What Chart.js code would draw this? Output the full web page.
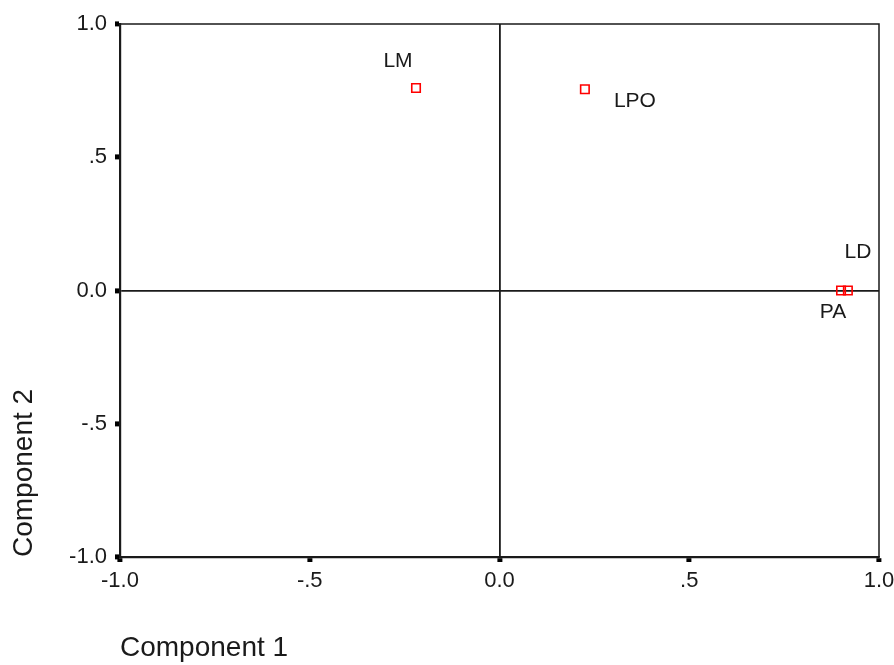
<!DOCTYPE html>
<html>
<head>
<meta charset="utf-8">
<title>Component Plot</title>
<script src="https://cdn.jsdelivr.net/npm/chart.js@4/dist/chart.umd.min.js"></script>
<style>
  html, body { margin: 0; padding: 0; background: #ffffff; }
  #wrap { width: 894px; height: 665px; }
</style>
</head>
<body>
<div id="wrap"><canvas id="plot" width="894" height="665"></canvas></div>
<script>
// Component loadings of each variable
const variables  = ['LM', 'LPO', 'LD', 'PA'];
const component1 = [-0.22, 0.225, 0.918, 0.90];
const component2 = [0.76, 0.755, 0.0, 0.0];

// Axis ticks and titles
const tickValues = [-1, -0.5, 0, 0.5, 1];
const tickLabels = ['-1.0', '-.5', '0.0', '.5', '1.0'];
const axisTitles = ['Component 1', 'Component 2'];

const FONT = '"Liberation Sans", Arial, sans-serif';
const INK = '#1a1a1a';

// Where each variable name sits relative to its marker (px)
const labelOffsets = {
  LM:  [-18, -27],
  LPO: [50, 12],
  LD:  [10, -38],
  PA:  [-8, 22]
};

const points = variables.map((v, i) => ({ x: component1[i], y: component2[i] }));

// Frame on top and right of the plot area
const framePlugin = {
  id: 'frame',
  afterDraw(chart) {
    const { ctx, chartArea: a } = chart;
    ctx.save();
    ctx.strokeStyle = INK;
    ctx.lineWidth = 1.5;
    ctx.beginPath();
    ctx.moveTo(a.left, a.top);
    ctx.lineTo(a.right, a.top);
    ctx.lineTo(a.right, a.bottom);
    ctx.stroke();
    ctx.restore();
  }
};

// Variable names next to their markers
const nameLabels = {
  id: 'nameLabels',
  afterDatasetsDraw(chart) {
    const { ctx } = chart;
    const meta = chart.getDatasetMeta(0);
    ctx.save();
    ctx.font = '21px ' + FONT;
    ctx.fillStyle = INK;
    ctx.textAlign = 'center';
    ctx.textBaseline = 'middle';
    meta.data.forEach((el, i) => {
      const name = variables[i];
      const off = labelOffsets[name] || [0, 0];
      ctx.fillText(name, el.x + off[0], el.y + off[1]);
    });
    ctx.restore();
  }
};

const tickLabel = v => {
  const idx = tickValues.findIndex(t => Math.abs(t - v) < 1e-9);
  return idx >= 0 ? tickLabels[idx] : '';
};

const axisGrid = {
  drawOnChartArea: true,
  color: ctx => (ctx.tick && Math.abs(ctx.tick.value) < 1e-9) ? INK : 'rgba(0,0,0,0)',
  lineWidth: 1.8,
  drawTicks: true,
  tickColor: '#000',
  tickLength: 5,
  tickWidth: 5
};

new Chart(document.getElementById('plot'), {
  type: 'scatter',
  data: {
    datasets: [{
      label: 'Loadings',
      data: points,
      pointStyle: 'rect',
      pointRadius: 6,
      pointHoverRadius: 6,
      borderColor: '#ff0000',
      backgroundColor: 'rgba(255,255,255,0)',
      borderWidth: 1.6
    }]
  },
  options: {
    responsive: false,
    animation: false,
    devicePixelRatio: 1,
    layout: { padding: { top: 24, right: 15, left: 0, bottom: 0 } },
    plugins: {
      legend: { display: false },
      tooltip: { enabled: false }
    },
    scales: {
      x: {
        type: 'linear',
        min: -1, max: 1,
        afterBuildTicks: s => { s.ticks = tickValues.map(v => ({ value: v })); },
        afterFit: s => { s.height = 108; s.paddingLeft = 0; s.paddingRight = 0; },
        grid: axisGrid,
        border: { display: true, color: INK, width: 2.2 },
        ticks: {
          padding: 6,
          color: INK,
          font: { family: FONT, size: 22 },
          maxRotation: 0,
          callback: tickLabel
        },
        title: {
          display: true,
          text: axisTitles[0],
          align: 'start',
          color: INK,
          font: { family: FONT, size: 28 },
          padding: { top: 0, bottom: 0 }
        }
      },
      y: {
        type: 'linear',
        min: -1, max: 1,
        afterBuildTicks: s => { s.ticks = tickValues.map(v => ({ value: v })); },
        afterFit: s => { s.width = 120; s.paddingTop = 0; s.paddingBottom = 0; },
        grid: axisGrid,
        border: { display: true, color: INK, width: 2.2 },
        ticks: {
          padding: 8,
          color: INK,
          font: { family: FONT, size: 22 },
          callback: tickLabel
        },
        title: {
          display: true,
          text: axisTitles[1],
          align: 'start',
          color: INK,
          font: { family: FONT, size: 28 },
          padding: { top: 7, bottom: 0 }
        }
      }
    }
  },
  plugins: [framePlugin, nameLabels]
});
</script>
</body>
</html>
